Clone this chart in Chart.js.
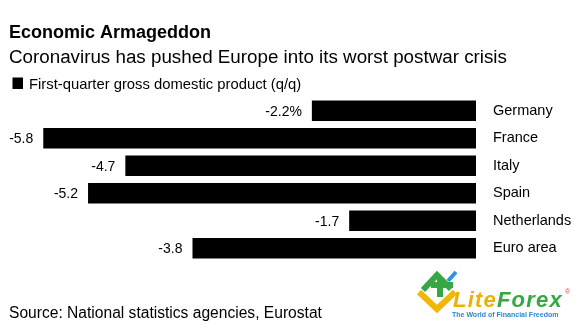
<!DOCTYPE html>
<html>
<head>
<meta charset="utf-8">
<script src="https://cdn.jsdelivr.net/npm/chart.js@4.4.1/dist/chart.umd.min.js"></script>
<style>
  html, body { margin: 0; padding: 0; background: #fff; }
  #wrap { position: relative; width: 580px; height: 331px; }
</style>
</head>
<body>
<div id="wrap"><canvas id="gdp"></canvas></div>
<script>
const countries = ['Germany', 'France', 'Italy', 'Spain', 'Netherlands', 'Euro area'];
const gdpChange = [-2.2, -5.8, -4.7, -5.2, -1.7, -3.8];

const titleText = 'Economic Armageddon';
const subtitleText = 'Coronavirus has pushed Europe into its worst postwar crisis';
const seriesName = 'First-quarter gross domestic product (q/q)';
const sourceText = 'Source: National statistics agencies, Eurostat';

const FONT = '"Liberation Sans", Arial, Helvetica, sans-serif';

// header, legend key and footer text
const headerPlugin = {
  id: 'header',
  afterDraw(chart) {
    const ctx = chart.ctx;
    ctx.save();
    ctx.fillStyle = '#000';
    ctx.textBaseline = 'alphabetic';
    ctx.textAlign = 'left';
    ctx.font = 'bold 18px ' + FONT;
    ctx.fillText(titleText, 9, 37.7);
    ctx.font = '18.8px ' + FONT;
    ctx.fillText(subtitleText, 9, 62.5);
    ctx.fillRect(12.5, 77.5, 10.5, 11.5);
    ctx.font = '14.8px ' + FONT;
    ctx.fillText(seriesName, 29, 88.5);
    ctx.font = '15.6px ' + FONT;
    ctx.fillText(sourceText, 9, 318);
    ctx.restore();
  }
};

// value printed to the left of each bar
const valueLabels = {
  id: 'valueLabels',
  afterDatasetsDraw(chart) {
    const ctx = chart.ctx;
    const meta = chart.getDatasetMeta(0);
    ctx.save();
    ctx.fillStyle = '#000';
    ctx.font = '14px ' + FONT;
    ctx.textAlign = 'right';
    ctx.textBaseline = 'middle';
    meta.data.forEach((bar, i) => {
      let txt = gdpChange[i].toFixed(1);
      if (i === 0) txt += '%';
      ctx.fillText(txt, bar.x - 10, bar.y + 1);
    });
    ctx.restore();
  }
};

// LiteForex watermark in the corner
const watermark = {
  id: 'watermark',
  afterDraw(chart) {
    const ctx = chart.ctx;
    ctx.save();
    ctx.lineCap = 'butt';
    ctx.lineJoin = 'miter';
    ctx.lineWidth = 6;
    ctx.strokeStyle = '#f2b705';
    ctx.beginPath();
    ctx.moveTo(419, 292);
    ctx.lineTo(437, 309);
    ctx.lineTo(455, 292);
    ctx.stroke();
    ctx.strokeStyle = '#35a843';
    ctx.beginPath();
    ctx.moveTo(423, 290);
    ctx.lineTo(437, 275);
    ctx.lineTo(451, 289);
    ctx.stroke();
    ctx.beginPath();
    ctx.moveTo(431, 285);
    ctx.lineTo(453, 285);
    ctx.moveTo(440, 278);
    ctx.lineTo(440, 297);
    ctx.stroke();
    ctx.strokeStyle = '#2d95dc';
    ctx.lineWidth = 4;
    ctx.beginPath();
    ctx.moveTo(448, 281);
    ctx.lineTo(456, 272);
    ctx.stroke();

    ctx.textAlign = 'left';
    ctx.textBaseline = 'alphabetic';
    ctx.font = 'italic bold 22px ' + FONT;
    ctx.letterSpacing = '1.2px';
    ctx.fillStyle = '#e9b10a';
    ctx.fillText('Lite', 453, 307);
    const w = ctx.measureText('Lite').width;
    ctx.fillStyle = '#35a843';
    ctx.fillText('Forex', 453 + w, 307);
    ctx.letterSpacing = '0px';
    ctx.font = '7px ' + FONT;
    ctx.fillStyle = '#e05050';
    ctx.fillText('®', 565, 294);
    ctx.font = 'bold 7px ' + FONT;
    ctx.fillStyle = '#2d86d0';
    ctx.fillText('The World of Financial Freedom', 452, 317);
    ctx.restore();
  }
};

new Chart(document.getElementById('gdp'), {
  type: 'bar',
  data: {
    labels: countries,
    datasets: [{
      label: seriesName,
      data: gdpChange,
      backgroundColor: '#000',
      borderWidth: 0,
      barPercentage: 0.74,
      categoryPercentage: 1
    }]
  },
  options: {
    indexAxis: 'y',
    responsive: true,
    maintainAspectRatio: false,
    animation: false,
    layout: { padding: { top: 97, bottom: 69, left: 0, right: 0 } },
    plugins: {
      legend: { display: false },
      tooltip: { enabled: false }
    },
    scales: {
      x: {
        display: false,
        min: -6.38,
        max: 0
      },
      y: {
        position: 'right',
        grid: { display: false, drawTicks: false },
        border: { display: false },
        ticks: {
          color: '#000',
          padding: 17,
          font: { family: FONT, size: 14.5 }
        },
        afterFit(scale) { scale.width = 104; }
      }
    }
  },
  plugins: [headerPlugin, valueLabels, watermark]
});
</script>
</body>
</html>
